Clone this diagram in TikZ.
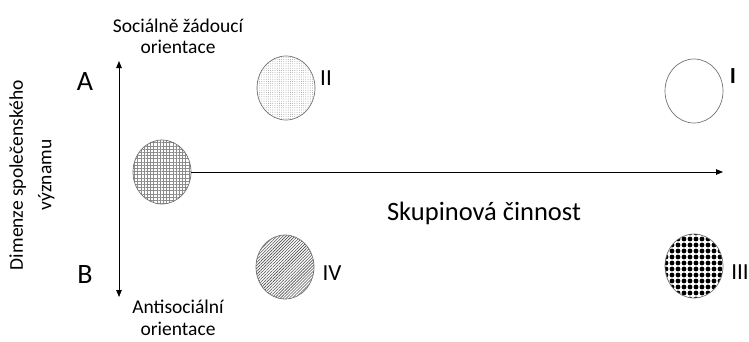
\documentclass[tikz,border=0pt]{standalone}
\usepackage{fontspec}
\setmainfont{Carlito}
\usetikzlibrary{arrows.meta,shapes.geometric,patterns.meta}
\tikzset{
  blob/.style={ellipse, draw=black!55, line width=0.7pt, minimum width=58pt, minimum height=64pt, inner sep=0pt},
  axis/.style={line width=0.8pt, {Triangle[length=7pt,width=5.5pt]}-{Triangle[length=7pt,width=5.5pt]}},
  haxis/.style={line width=0.8pt, -{Triangle[length=7pt,width=5.5pt]}},
  lbl/.style={font=\fontsize{19.5}{21.5}\selectfont, align=center, inner sep=0pt},
  roman/.style={font=\fontsize{23}{26}\selectfont, inner sep=0pt},
  letter/.style={font=\fontsize{28}{32}\selectfont, inner sep=0pt}
}
\begin{document}
\begin{tikzpicture}[x=1pt,y=-1pt]
\useasboundingbox (0,0) rectangle (749,341);

% vertical axis
\coordinate (vtop) at (119,61);
\coordinate (vbot) at (119,297);
\draw[axis] (vtop) -- (vbot);

% clusters
\node[blob, pattern={Hatch[angle=0,distance=3.2pt,line width=0.35pt]}, pattern color=black!45] (g0) at (162,172) {};
\node[blob, pattern={Dots[radius=0.35pt,distance=2.2pt]}, pattern color=black!60] (g2) at (286,88) {};
\node[blob] (g1) at (694,91) {};
\node[blob, pattern={Lines[angle=45,distance=2.1pt,line width=0.6pt]}, pattern color=black!70] (g4) at (285,267) {};
\node[blob, pattern={Dots[radius=2.4pt,distance=6pt]}, pattern color=black] (g3) at (694,266) {};

% horizontal axis
\coordinate (hend) at (723,172);
\draw[haxis] (g0.east) -- (hend);

% texts
\node[lbl] (top) at (178,36.5) {Sociálně žádoucí\\orientace};
\node[lbl] (bot) at (178,318) {Antisociální\\orientace};
\node[lbl, rotate=90] (dim) at (32,175) {Dimenze společenského\\[7pt]významu};
\node[letter] (A) at (85,82) {A};
\node[letter] (B) at (85,275) {B};
\node[font=\fontsize{26.5}{30}\selectfont, inner sep=0pt] (sk) at (484,213) {Skupinová činnost};
\node[roman] (r2) at (326,78) {II};
\node[roman, font=\fontsize{23}{26}\selectfont\bfseries] (r1) at (733,76) {I};
\node[roman] (r4) at (332,273) {IV};
\node[roman] (r3) at (740,272) {III};
\end{tikzpicture}
\end{document}
